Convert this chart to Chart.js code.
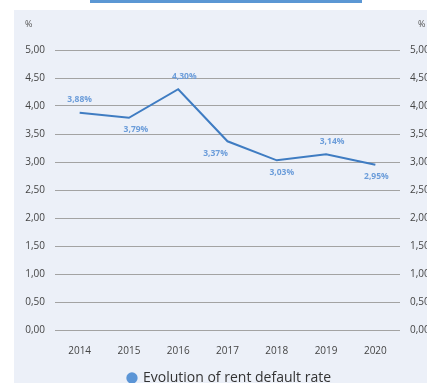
<!DOCTYPE html>
<html><head><meta charset="utf-8">
<script src="https://cdn.jsdelivr.net/npm/chart.js@4/dist/chart.umd.min.js"></script>
<style>
html,body{margin:0;padding:0;background:#fff;overflow:hidden;width:427px;height:383px;}
#bar{position:absolute;left:90px;top:0;width:272px;height:3px;background:#5B97D4;}
#wrap{position:absolute;left:14px;top:10px;width:431px;height:373px;background:#ECF0F8;}
</style></head><body>
<div id="bar"></div>
<div id="wrap"><canvas id="c" width="431" height="373"></canvas></div>
<script>
const years = ['2014','2015','2016','2017','2018','2019','2020'];
const defaultRate = [3.88, 3.79, 4.30, 3.37, 3.03, 3.14, 2.95];
const seriesName = 'Evolution of rent default rate';
const axisUnit = '%';

const labelPlace = ['top','bottom','top','bottom','bottom','top','bottom'];
const labelShiftX = [0, 7, 6, -12, 5, 6, 1];

const fmt = v => v.toFixed(2).replace('.', ',');

const valueLabels = {
  id: 'valueLabels',
  afterDatasetsDraw(chart) {
    const ctx = chart.ctx;
    const meta = chart.getDatasetMeta(0);
    ctx.save();
    ctx.font = 'bold 8.5px "Open Sans", sans-serif';
    ctx.fillStyle = '#6C9DDA';
    ctx.textAlign = 'center';
    ctx.textBaseline = 'middle';
    meta.data.forEach((pt, i) => {
      const dy = labelPlace[i] === 'top' ? -13 : 12;
      ctx.fillText(fmt(defaultRate[i]) + '%', pt.x + labelShiftX[i], pt.y + dy);
    });
    ctx.font = '9px "Open Sans", sans-serif';
    ctx.fillStyle = '#555';
    ctx.textAlign = 'left';
    ctx.fillText(axisUnit, 11, 14);
    ctx.fillText(axisUnit, 404, 14);
    ctx.restore();
  }
};

new Chart(document.getElementById('c'), {
  type: 'line',
  data: {
    labels: years,
    datasets: [{
      label: seriesName,
      data: defaultRate,
      borderColor: '#3F7CC2',
      backgroundColor: '#5B95D6',
      borderWidth: 2,
      pointRadius: 0,
      tension: 0
    }]
  },
  options: {
    responsive: false,
    animation: false,
    devicePixelRatio: 1,
    layout: { padding: { top: 40, bottom: -12, left: 0, right: 0 } },
    plugins: {
      legend: {
        position: 'bottom',
        labels: {
          usePointStyle: true,
          boxWidth: 8, boxHeight: 8,
          color: '#333',
          padding: 4,
          font: { family: '"Open Sans", sans-serif', size: 14 },
          generateLabels: chart => chart.data.datasets.map((d, i) => ({
            text: d.label, fillStyle: d.backgroundColor, strokeStyle: d.backgroundColor,
            lineWidth: 0, pointStyle: 'circle', datasetIndex: i, hidden: false, fontColor: '#333'
          }))
        }
      },
      tooltip: { enabled: false }
    },
    scales: {
      x: {
        offset: true,
        afterFit: s => { s.height = 37; },
        grid: { display: false, drawTicks: false },
        border: { display: false },
        ticks: { color: '#444', padding: 15, font: { family: '"Open Sans", sans-serif', size: 10 } }
      },
      y: {
        position: 'left',
        min: 0, max: 5,
        afterFit: s => { s.width = 41; },
        grid: { color: '#A3A3A3', drawTicks: false, lineWidth: 1 },
        border: { display: false },
        ticks: { stepSize: 0.5, padding: 10, color: '#444', font: { family: '"Open Sans", sans-serif', size: 10 }, callback: v => fmt(v) }
      },
      y2: {
        position: 'right',
        min: 0, max: 5,
        afterFit: s => { s.width = 45; },
        grid: { display: false, drawTicks: false },
        border: { display: false },
        ticks: { stepSize: 0.5, padding: 10, color: '#444', font: { family: '"Open Sans", sans-serif', size: 10 }, callback: v => fmt(v) }
      }
    }
  },
  plugins: [valueLabels]
});
</script>
</body></html>
